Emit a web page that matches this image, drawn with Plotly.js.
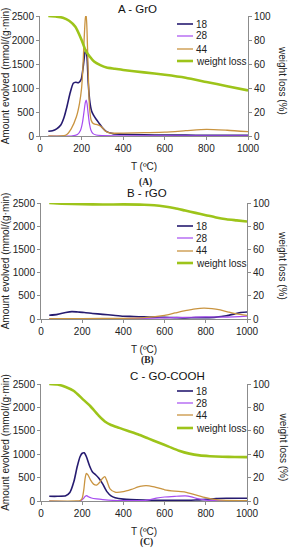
<!DOCTYPE html>
<html><head><meta charset="utf-8">
<script src="https://cdn.plot.ly/plotly-3.0.1.min.js"></script>
<style>html,body{margin:0;padding:0;background:#fff}#chart{width:289px;height:550px}</style>
</head><body><div id="chart"></div>
<script>
// ---------- data ----------
const seriesNames = ['18', '28', '44', 'weight loss'];
const panelTitles = ['A - GrO', 'B - rGO', 'C - GO-COOH'];
const panelCaptions = ['(A)', '(B)', '(C)'];
const xTicks = [0, 200, 400, 600, 800, 1000];
const leftTicks = [0, 500, 1000, 1500, 2000, 2500];
const rightTicks = [0, 20, 40, 60, 80, 100];

// Panel A - GrO
const tA18 = [40,60,80,100,115,130,145,160,172,185,198,208,216,221,226,232,240,248,258,270,285,300,320,350,400,500,600,700,800,900,1000];
const vA18 = [100,110,150,230,380,620,900,1100,1120,1110,1180,1450,1740,1790,1650,1100,700,520,430,350,260,170,90,50,35,25,20,18,15,15,15];
const tA28 = [40,150,180,195,205,212,218,222,226,232,238,245,255,270,300,400,600,800,1000];
const vA28 = [0,0,30,120,300,520,700,750,680,450,250,120,50,20,10,5,5,5,5];
const tA44 = [40,100,125,150,175,190,200,206,212,218,222,226,232,238,246,256,270,285,300,315,340,400,500,600,700,800,900,1000];
const vA44 = [0,0,20,150,400,680,1000,1400,2000,2450,2530,2200,1300,600,330,260,240,220,170,100,60,60,70,80,110,140,120,90];
const tAwl = [40,80,110,140,170,200,220,240,260,290,320,360,400,500,600,700,800,900,1000];
const vAwl = [100,99.5,98.5,96,91,80,71,66,62,59,57,56,55,53,51,48.5,45,41.5,38];

// Panel B - rGO
const tB18 = [40,80,120,150,180,210,250,300,350,400,450,500,550,600,650,700,750,800,850,900,940,970,1000];
const vB18 = [80,100,140,160,150,140,120,100,80,60,55,45,40,35,30,25,30,30,40,70,110,140,150];
const tB28 = [40,200,400,500,600,700,800,900,1000];
const vB28 = [5,5,10,15,25,35,45,40,60];
const tB44 = [40,200,400,500,600,650,700,750,790,830,870,910,950,1000];
const vB44 = [10,10,15,30,80,130,180,220,235,225,195,150,110,80];
const tBwl = [40,100,200,300,400,500,550,600,650,700,750,800,850,900,950,1000];
const vBwl = [100,99.5,99,98.7,98.8,98.5,98,97,95.5,93.5,91.5,89.5,87.5,86,85,84];

// Panel C - GO-COOH
const tC18 = [40,80,120,140,160,175,190,200,210,220,235,250,265,280,300,320,340,360,400,500,600,700,750,800,850,900,1000];
const vC18 = [100,100,110,180,420,720,950,1020,1030,950,760,620,560,490,360,200,110,70,40,20,15,15,20,35,55,60,60];
const tC28 = [40,190,205,215,222,230,245,270,300,350,400,500,530,560,600,650,700,730,760,800,900,1000];
const vC28 = [0,0,50,100,115,90,65,45,30,15,10,10,30,60,85,100,110,90,50,20,5,5];
const tC44 = [40,170,190,200,208,214,220,228,240,255,270,285,298,310,320,335,360,400,440,480,510,550,600,650,700,750,800,850,900,1000];
const vC44 = [0,0,10,60,250,480,590,560,450,360,340,400,480,520,430,260,190,200,250,310,330,300,240,210,190,130,70,30,15,10];
const tCwl = [40,80,120,160,200,240,280,310,340,380,420,470,520,570,620,670,720,770,820,880,940,1000];
const vCwl = [100,99.5,97.5,94,87.5,81,73,68,65,62.5,60,57,53.5,50,46.5,43,40.5,39,38.3,37.8,37.6,37.5];

// ---------- styling ----------
const W = 289, H = 550;
const colors = ['#261b70', '#a64cf0', '#c99440', '#9dc41a'];
const widths = [1.6, 1.2, 1.3, 2.6];
const FONT = 'Liberation Sans, Arial, sans-serif';
const px = x => x / W, py = y => 1 - y / H;

const panels = [
  {data: [[tA18,vA18],[tA28,vA28],[tA44,vA44],[tAwl,vAwl]], x0: 40, x1: 248, yTop: 16, yBot: 136, titleX: 137, titleY: 9, legY: [24,36,49,61], capY: 182, capX: 145},
  {data: [[tB18,vB18],[tB28,vB28],[tB44,vB44],[tBwl,vBwl]], x0: 41, x1: 247, yTop: 203, yBot: 319, titleX: 147, titleY: 193, legY: [226,238,251,263], capY: 360, capX: 147},
  {data: [[tC18,vC18],[tC28,vC28],[tC44,vC44],[tCwl,vCwl]], x0: 41, x1: 247, yTop: 384, yBot: 501, titleX: 167, titleY: 376, legY: [391,403,415,428], capY: 542, capX: 146}
];

const traces = [];
const layout = {
  width: W, height: H, margin: {l:0, r:0, t:0, b:0},
  paper_bgcolor: '#fff', plot_bgcolor: 'rgba(0,0,0,0)',
  showlegend: false, font: {family: FONT, size: 10, color: '#222'},
  annotations: [], shapes: []
};

panels.forEach((p, i) => {
  const xa = i === 0 ? 'x' : 'x' + (i + 1);
  const yl = i === 0 ? 'y' : 'y' + (2 * i + 1);
  const yr = 'y' + (2 * i + 2);
  const xk = i === 0 ? 'xaxis' : 'xaxis' + (i + 1);
  const ylk = i === 0 ? 'yaxis' : 'yaxis' + (2 * i + 1);
  const yrk = 'yaxis' + (2 * i + 2);
  const dom = [py(p.yBot), py(p.yTop)];
  const axCommon = {showline: true, linecolor: '#8c8c8c', linewidth: 1, ticks: 'outside', ticklen: 3, tickcolor: '#8c8c8c', showgrid: false, zeroline: false, fixedrange: true, tickfont: {family: FONT, size: 10, color: '#222'}};
  layout[xk] = Object.assign({}, axCommon, {domain: [px(p.x0), px(p.x1)], anchor: yl, range: [0, 1000], tickvals: xTicks,
    title: {text: 'T (ºC)', font: {family: FONT, size: 10, color: '#222'}, standoff: 9}});
  layout[ylk] = Object.assign({}, axCommon, {domain: dom, anchor: xa, range: [0, 2500], tickvals: leftTicks,
    title: {text: 'Amount evolved (mmol/(g·min)', font: {family: FONT, size: 10, color: '#222'}, standoff: 4}});
  layout[yrk] = Object.assign({}, axCommon, {domain: dom, anchor: xa, overlaying: yl, side: 'right', range: [0, 100], tickvals: rightTicks});

  p.data.forEach((d, k) => {
    traces.push({x: d[0], y: d[1], type: 'scatter', mode: 'lines', name: seriesNames[k],
      xaxis: xa, yaxis: k === 3 ? yr : yl, hoverinfo: 'skip',
      line: {color: colors[k], width: widths[k], shape: 'spline', smoothing: 0.6}});
  });

  layout.annotations.push({text: panelTitles[i], xref: 'paper', yref: 'paper', x: px(p.titleX), y: py(p.titleY),
    xanchor: 'center', yanchor: 'middle', showarrow: false, font: {family: FONT, size: 11.5, color: '#111'}});
  layout.annotations.push({text: 'weight loss (%)', xref: 'paper', yref: 'paper', x: px(283), y: py((p.yTop + p.yBot) / 2 + 4),
    xanchor: 'center', yanchor: 'middle', textangle: 90, showarrow: false, font: {family: FONT, size: 10, color: '#222'}});
  layout.annotations.push({text: '<b>' + panelCaptions[i] + '</b>', xref: 'paper', yref: 'paper', x: px(p.capX), y: py(p.capY),
    xanchor: 'center', yanchor: 'middle', showarrow: false, font: {family: 'Liberation Serif, Times New Roman, serif', size: 9.5, color: '#222'}});
  // legend
  seriesNames.forEach((n, k) => {
    layout.shapes.push({type: 'line', xref: 'paper', yref: 'paper', x0: px(177), x1: px(193), y0: py(p.legY[k]), y1: py(p.legY[k]),
      line: {color: colors[k], width: widths[k]}});
    layout.annotations.push({text: n, xref: 'paper', yref: 'paper', x: px(194), y: py(p.legY[k]), xanchor: 'left', yanchor: 'middle',
      showarrow: false, font: {family: FONT, size: 10, color: '#222'}});
  });
});

Plotly.newPlot('chart', traces, layout, {staticPlot: true, displayModeBar: false});
</script></body></html>
